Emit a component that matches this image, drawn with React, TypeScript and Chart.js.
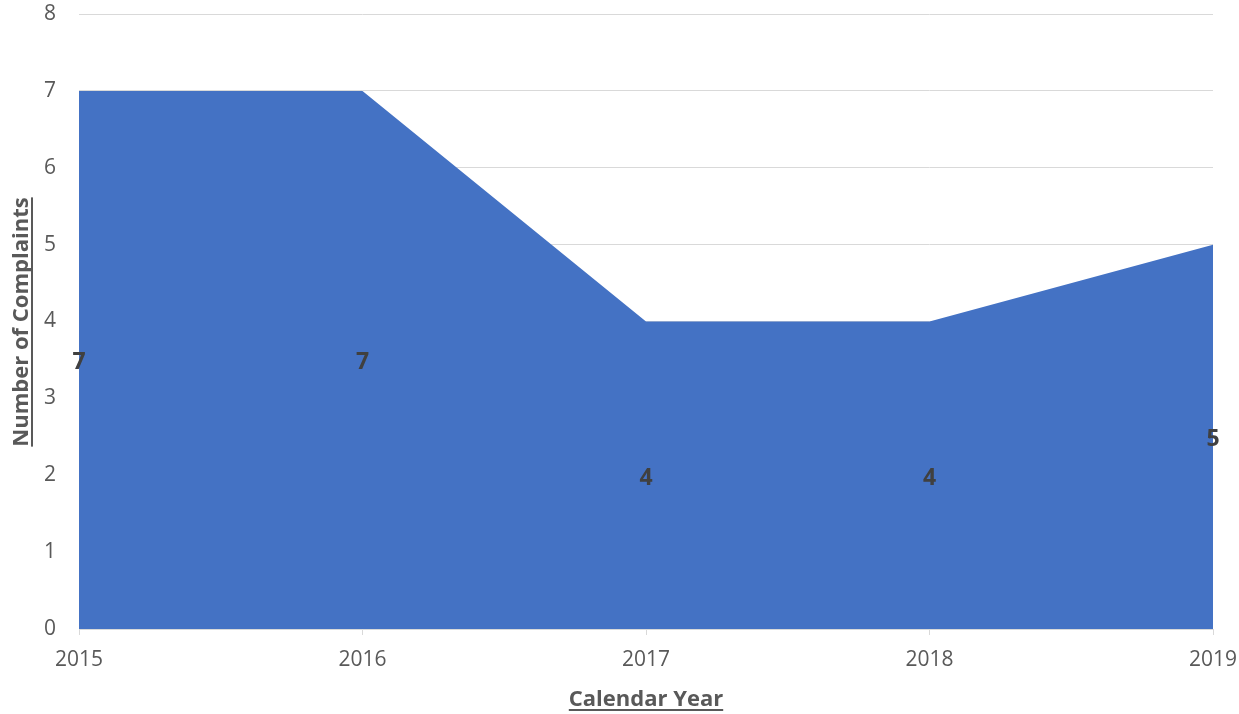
import React, { useEffect, useRef } from "react";
import { Chart, registerables } from "chart.js";

Chart.register(...registerables);

const years = ["2015", "2016", "2017", "2018", "2019"];
const complaints = [7, 7, 4, 4, 5];
const yTicks = [0, 1, 2, 3, 4, 5, 6, 7, 8];
const xTitle = "Calendar Year";
const yTitle = "Number of Complaints";

const FONT = "'Open Sans', 'Liberation Sans', sans-serif";
const TEXT = "#595959";

const overlayPlugin = {
  id: "overlay",
  afterDraw(chart: any) {
    const ctx = chart.ctx;
    const meta = chart.getDatasetMeta(0);
    const ys = chart.scales.y;
    ctx.save();
    // data labels
    ctx.font = `bold 23px ${FONT}`;
    ctx.fillStyle = "#404040";
    ctx.textAlign = "center";
    ctx.textBaseline = "middle";
    meta.data.forEach((pt: any, i: number) => {
      const v = complaints[i];
      ctx.fillText(String(v), pt.x, ys.getPixelForValue(v / 2) + 3);
    });
    // x title
    ctx.font = `bold 22px ${FONT}`;
    ctx.fillStyle = TEXT;
    ctx.textBaseline = "alphabetic";
    const cx = (chart.chartArea.left + chart.chartArea.right) / 2;
    const xw = ctx.measureText(xTitle).width;
    ctx.fillText(xTitle, cx, 706);
    ctx.fillRect(cx - xw / 2, 709, xw, 2);
    // y title
    ctx.translate(28, 322);
    ctx.rotate(-Math.PI / 2);
    const yw = ctx.measureText(yTitle).width;
    ctx.fillText(yTitle, 0, 0);
    ctx.fillRect(-yw / 2, 3, yw, 2);
    ctx.restore();
  },
};

const zeroPad = (s: any) => {
  s.paddingTop = 0;
  s.paddingBottom = 0;
  s.paddingLeft = 0;
  s.paddingRight = 0;
};

export default function App() {
  const ref = useRef<HTMLCanvasElement | null>(null);
  useEffect(() => {
    if (!ref.current) return;
    const chart = new Chart(ref.current, {
      type: "line",
      data: {
        labels: years,
        datasets: [
          {
            data: complaints,
            fill: "origin",
            backgroundColor: "#4472C4",
            borderColor: "#4472C4",
            borderWidth: 0,
            pointRadius: 0,
            tension: 0,
          },
        ],
      },
      options: {
        responsive: false,
        animation: false,
        layout: { autoPadding: false, padding: { top: 14, right: 26, left: 0, bottom: 0 } },
        plugins: { legend: { display: false }, tooltip: { enabled: false } },
        scales: {
          x: {
            offset: false,
            grid: { drawOnChartArea: false, drawTicks: true, tickLength: 6, color: "#d9d9d9" },
            border: { display: true, color: "#d9d9d9", width: 1 },
            ticks: { color: TEXT, font: { family: FONT, size: 21 }, padding: 12, maxRotation: 0 },
            afterFit: (s: any) => {
              s.height = 85;
              zeroPad(s);
            },
          },
          y: {
            min: 0,
            max: 8,
            afterBuildTicks: (s: any) => {
              s.ticks = yTicks.map((v) => ({ value: v }));
            },
            grid: { color: "#d9d9d9", drawTicks: false },
            border: { display: false },
            ticks: { color: TEXT, font: { family: FONT, size: 21 }, padding: 23 },
            afterFit: (s: any) => {
              s.width = 79;
              zeroPad(s);
            },
          },
        },
      },
      plugins: [overlayPlugin],
    });
    return () => chart.destroy();
  }, []);
  return (
    <div style={{ position: "absolute", left: 0, top: 0, width: 1239, height: 714 }}>
      <canvas ref={ref} width={1239} height={714} style={{ display: "block" }} />
    </div>
  );
}
